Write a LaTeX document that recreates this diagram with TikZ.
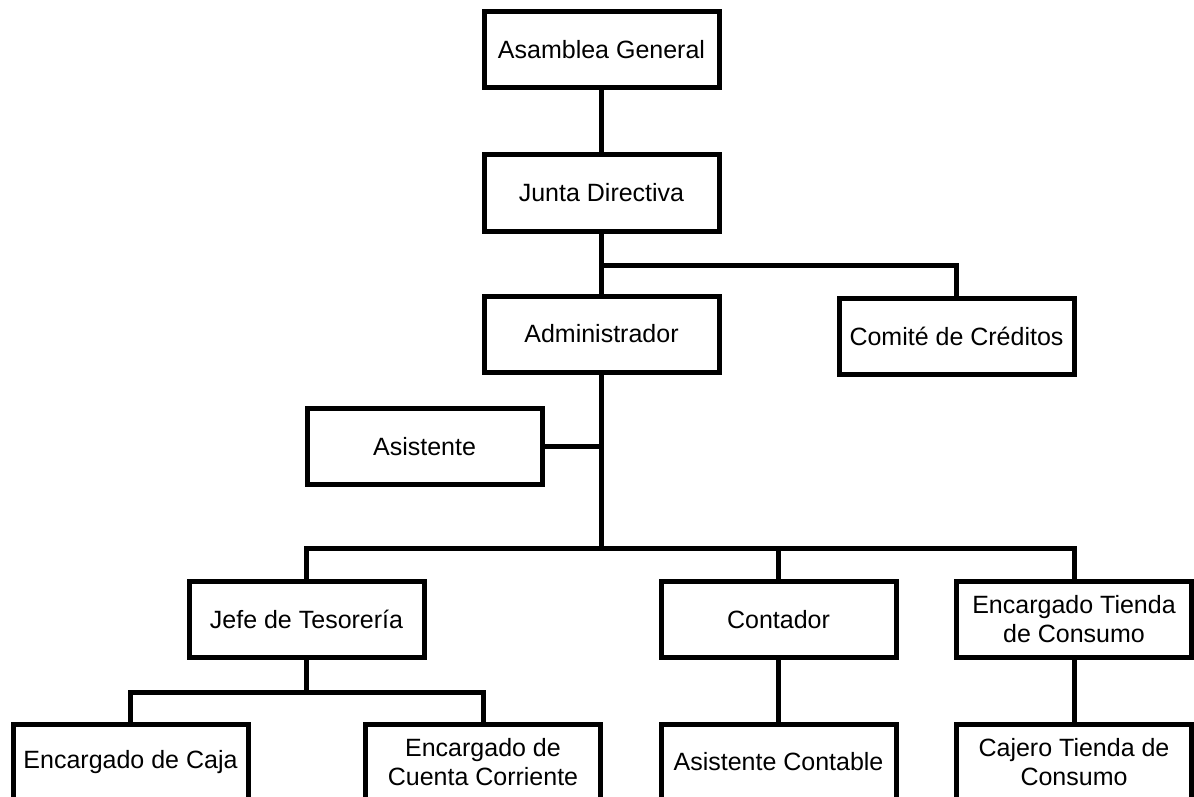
\documentclass[tikz,border=0pt]{standalone}
\usepackage{fontspec}
\setmainfont{Liberation Sans}
\begin{document}
\begin{tikzpicture}[x=1pt,y=-1pt,
  unit/.style={draw, line width=5pt, rectangle, fill=white,
    minimum width=235pt, minimum height=76pt, inner sep=0pt,
    align=center, font=\fontsize{25}{29}\selectfont},
  link/.style={line width=5pt, line join=miter}]
  \clip (0,0) rectangle (1194,797);
  \fill[white] (0,0) rectangle (1194,797);

  % upper levels
  \node[unit] (ag) at (601.5,50)  {Asamblea General};
  \node[unit] (jd) at (601.5,193) {Junta Directiva};
  \node[unit] (ad) at (601.5,334) {Administrador};
  \node[unit] (cc) at (956.5,336) {Comité de Créditos};
  \node[unit] (as) at (424.5,446.5) {Asistente};

  % middle level
  \node[unit] (jt) at (306.5,619.5) {Jefe de Tesorería};
  \node[unit] (co) at (778.5,619.5) {Contador};
  \node[unit] (et) at (1074,619.5)  {Encargado Tienda\\de Consumo};

  % lower level
  \node[unit] (ec) at (130.5,762) {\raisebox{6pt}{Encargado de Caja}};
  \node[unit] (cu) at (483,762)   {Encargado de\\Cuenta Corriente};
  \node[unit] (ac) at (778.5,762) {Asistente Contable};
  \node[unit] (ct) at (1074,762)  {Cajero Tienda de\\Consumo};

  % junction points of the connector buses
  \coordinate (j1) at (601.5,265);
  \coordinate (j2) at (601.5,548);
  \coordinate (j3) at (306.5,692);

  % connectors
  \draw[link] (ag.south) -- (jd.north);
  \draw[link] (jd.south) -- (ad.north);
  \draw[link] (j1) -| (cc.north);
  \draw[link] (ad.south) -- (j2);
  \draw[link] (as.east) -- (as.east -| ad.south);
  \draw[link] (jt.north) |- (j2) -| (et.north);
  \draw[link] (co.north) -- (co.north |- j2);
  \draw[link] (jt.south) -- (j3);
  \draw[link] (ec.north) |- (j3) -| (cu.north);
  \draw[link] (co.south) -- (ac.north);
  \draw[link] (et.south) -- (ct.north);
\end{tikzpicture}
\end{document}
